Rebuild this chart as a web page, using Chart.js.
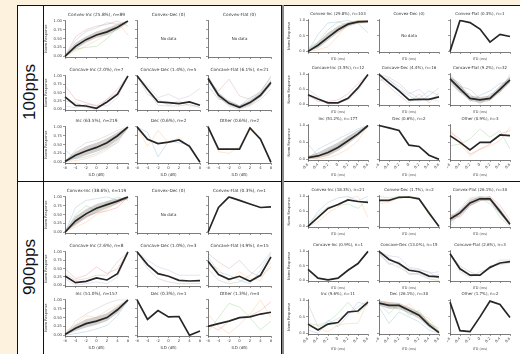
<!DOCTYPE html>
<html>
<head>
<meta charset="utf-8">
<script src="https://cdn.jsdelivr.net/npm/chart.js@4/dist/chart.umd.min.js"></script>
<style>
  body { margin: 0; width: 520px; height: 354px; background: #fcf2de; position: relative; overflow: hidden; }
  .box { position: absolute; }
  .line { position: absolute; background: #111; }
  .rowlab { position: absolute; font: 17px 'Liberation Sans', Arial, sans-serif; color: #111;
            transform: translate(-50%, -50%) rotate(-90deg); white-space: nowrap; }
  canvas { position: absolute; }
</style>
</head>
<body>
<div class="box" style="left:17px;top:5px;width:503px;height:349px;background:#fff"></div>
<div class="line" style="left:17px;top:5px;width:503px;height:1px"></div>
<div class="line" style="left:17px;top:5px;width:1px;height:349px"></div>
<div class="line" style="left:43px;top:5px;width:1px;height:349px"></div>
<div class="line" style="left:17px;top:181px;width:503px;height:1px"></div>
<div class="line" style="left:281px;top:5px;width:1px;height:349px"></div>
<div class="line" style="left:282px;top:5px;width:2px;height:349px;background:#8a8a8a"></div>
<div class="rowlab" style="left:30px;top:92px">100pps</div>
<div class="rowlab" style="left:30px;top:267px">900pps</div>
<div id="root"></div>
<script>
// x tick labels
const ILD_TICKS = ['-8', '-4', '-2', '0', '2', '4', '8'];
const ITD_TICKS = ['-0.6', '-0.4', '-0.2', '0', '0.2', '0.4', '0.6'];

// ---- 100pps, ILD ----
const titles100Ild = ['Convex-Inc (25.8%), n=89', 'Convex-Dec (0)', 'Convex-Flat (0)',
  'Concave-Inc (2.0%), n=7', 'Concave-Dec (1.4%), n=5', 'Concave-Flat (6.1%), n=21',
  'Inc (63.5%), n=219', 'Dec (0.6%), n=2', 'Other (0.6%), n=2'];
const mean100Ild = [
  [0, 0.28, 0.47, 0.6, 0.69, 0.82, 1.0], null, null,
  [0.37, 0.12, 0.1, 0.03, 0.22, 0.45, 1.0],
  [1.0, 0.6, 0.22, 0.2, 0.17, 0.22, 0.12],
  [0.92, 0.42, 0.18, 0.06, 0.2, 0.42, 0.8],
  [0.02, 0.2, 0.32, 0.42, 0.55, 0.75, 1.0],
  [1.0, 0.65, 0.53, 0.57, 0.63, 0.45, 0.0],
  [1.0, 0.37, 0.37, 0.37, 0.97, 0.65, 0.0]];
const band100Ild = [
  [[0, 0.2, 0.38, 0.52, 0.6, 0.74, 0.95], [0.03, 0.38, 0.56, 0.7, 0.8, 0.9, 1.0]], null, null,
  null, null,
  [[0.85, 0.35, 0.12, 0.02, 0.12, 0.35, 0.72], [1.0, 0.5, 0.25, 0.12, 0.28, 0.5, 0.88]],
  [[0, 0.1, 0.2, 0.3, 0.42, 0.62, 0.95], [0.05, 0.3, 0.45, 0.55, 0.68, 0.85, 1.0]],
  null, null];
const faint100Ild = [
  [[0, 0.45, 0.7, 0.8, 0.95, 0.9, 1.0], [0, 0.15, 0.3, 0.45, 0.65, 0.95, 0.6], [0, 0.2, 0.25, 0.28, 0.5, 0.82, 1.0], [0, 0.55, 0.75, 0.85, 0.9, 1.0, 0.85]],
  [], [],
  [[0.7, 0.3, 0.2, 0.1, 0.3, 0.6, 1.0], [0.1, 0.05, 0.15, 0.12, 0.1, 0.35, 1.0], [0.25, 0.2, 0.05, 0.0, 0.3, 0.5, 1.0]],
  [[1.0, 0.7, 0.35, 0.45, 0.3, 0.4, 0.62], [1.0, 0.55, 0.12, 0.1, 0.1, 0.15, 0.05], [1.0, 0.45, 0.3, 0.12, 0.25, 0.1, 0.1]],
  [[0.85, 0.55, 0.9, 0.4, 0.3, 0.55, 0.95], [1.0, 0.35, 0.1, 0.0, 0.1, 0.3, 0.6], [0.7, 0.3, 0.25, 0.1, 0.35, 0.5, 1.0]],
  [[0, 0.35, 0.55, 0.62, 0.75, 0.9, 1.0], [0.35, 0.1, 0.15, 0.25, 0.4, 0.55, 1.0], [0, 0.05, 0.1, 0.2, 0.35, 0.6, 1.0]],
  [[1.0, 0.85, 0.15, 0.6, 0.55, 0.5, 0.0], [1.0, 0.45, 0.9, 0.55, 0.7, 0.4, 0.0]],
  [[1.0, 0.3, 0.25, 0.45, 0.9, 0.7, 0.0]]];

// ---- 100pps, ITD ----
const titles100Itd = ['Convex-Inc (29.8%), n=103', 'Convex-Dec (0)', 'Convex-Flat (0.3%), n=1',
  'Concave-Inc (3.5%), n=12', 'Concave-Dec (4.4%), n=16', 'Concave-Flat (9.2%), n=32',
  'Inc (51.2%), n=177', 'Dec (0.6%), n=2', 'Other (0.9%), n=3'];
const mean100Itd = [
  [0, 0.2, 0.45, 0.7, 0.88, 0.95, 0.97], null,
  [0, 1.0, 0.93, 0.72, 0.3, 0.55, 0.48],
  [0.32, 0.18, 0.05, 0.05, 0.2, 0.55, 1.0],
  [1.0, 0.72, 0.45, 0.15, 0.17, 0.17, 0.25],
  [0.85, 0.52, 0.2, 0.15, 0.2, 0.5, 0.82],
  [0.05, 0.1, 0.2, 0.35, 0.55, 0.75, 1.0],
  [1.0, 0.93, 0.85, 0.42, 0.38, 0.12, 0.0],
  [0.7, 0.5, 0.28, 0.5, 0.5, 0.72, 0.7]];
const band100Itd = [
  [[0, 0.1, 0.35, 0.6, 0.8, 0.9, 0.92], [0.05, 0.3, 0.6, 0.82, 0.95, 1.0, 1.0]], null, null,
  null, null,
  [[0.75, 0.4, 0.12, 0.05, 0.12, 0.4, 0.72], [0.95, 0.65, 0.3, 0.25, 0.3, 0.62, 0.92]],
  [[0, 0.03, 0.1, 0.25, 0.45, 0.68, 0.95], [0.1, 0.2, 0.35, 0.5, 0.68, 0.85, 1.0]],
  null, null];
const faint100Itd = [
  [[0, 0.55, 0.92, 0.95, 1.0, 0.9, 0.6], [0, 0.05, 0.15, 0.5, 0.9, 1.0, 1.0], [0.1, 0.3, 0.7, 0.95, 0.85, 1.0, 0.95]],
  [], [],
  [[0.3, 0.1, 0.1, 0.15, 0.35, 0.7, 1.0], [0.5, 0.25, 0.0, 0.05, 0.15, 0.45, 1.0]],
  [[1.0, 0.8, 0.6, 0.35, 0.5, 0.2, 0.1], [0.9, 0.6, 0.3, 0.05, 0.35, 0.05, 0.4], [1.0, 0.9, 0.7, 0.4, 0.2, 0.45, 0.3], [0.8, 0.85, 0.5, 0.3, 0.1, 0.3, 0.55]],
  [[1.0, 0.6, 0.5, 0.2, 0.15, 0.55, 0.9], [0.7, 0.4, 0.35, 0.0, 0.35, 0.4, 1.0], [0.9, 0.7, 0.1, 0.3, 0.45, 0.7, 0.75]],
  [[0.45, 0.1, 0.25, 0.4, 0.65, 0.85, 1.0], [0, 0.3, 0.45, 0.6, 0.75, 0.9, 1.0], [0.05, 0.0, 0.05, 0.15, 0.3, 0.55, 1.0]],
  [],
  [[0.9, 0.45, 0.1, 0.3, 0.4, 0.55, 0.95], [0.4, 0.45, 0.6, 0.9, 0.65, 0.85, 0.3], [0.8, 0.6, 0.15, 0.3, 0.45, 0.75, 0.85]]];

// ---- 900pps, ILD ----
const titles900Ild = ['Convex-Inc (38.6%), n=119', 'Convex-Dec (0)', 'Convex-Flat (0.3%), n=1',
  'Concave-Inc (2.6%), n=8', 'Concave-Dec (1.0%), n=3', 'Concave-Flat (4.9%), n=15',
  'Inc (51.0%), n=157', 'Dec (0.3%), n=1', 'Other (1.3%), n=4'];
const mean900Ild = [
  [0, 0.32, 0.52, 0.68, 0.78, 0.88, 1.0], null,
  [0, 0.7, 1.0, 0.9, 0.8, 0.7, 0.72],
  [0.28, 0.08, 0.12, 0.22, 0.16, 0.35, 1.0],
  [1.0, 0.62, 0.35, 0.27, 0.15, 0.13, 0.14],
  [0.72, 0.32, 0.18, 0.27, 0.12, 0.3, 0.85],
  [0.02, 0.2, 0.33, 0.4, 0.5, 0.72, 1.0],
  [1.0, 0.45, 0.7, 0.52, 0.53, 0.0, 0.12],
  [0.25, 0.33, 0.4, 0.5, 0.52, 0.6, 0.65]];
const band900Ild = [
  [[0, 0.2, 0.4, 0.55, 0.68, 0.8, 0.95], [0.05, 0.45, 0.65, 0.8, 0.88, 0.95, 1.0]], null, null,
  null, null, null,
  [[0, 0.12, 0.22, 0.3, 0.4, 0.62, 0.95], [0.05, 0.3, 0.45, 0.52, 0.62, 0.82, 1.0]],
  null, null];
const faint900Ild = [
  [[0, 0.7, 0.9, 0.95, 1.0, 0.9, 0.95], [0, 0.15, 0.28, 0.5, 0.65, 0.85, 1.0], [0, 0.5, 0.75, 0.62, 0.85, 1.0, 0.9], [0, 0.25, 0.45, 0.55, 0.6, 0.7, 1.0]],
  [], [],
  [[0.5, 0.2, 0.3, 0.55, 0.35, 0.5, 1.0], [0.2, 0.0, 0.05, 0.1, 0.05, 0.25, 1.0], [0.35, 0.15, 0.2, 0.3, 0.3, 0.7, 1.0]],
  [[1.0, 0.75, 0.55, 0.45, 0.3, 0.3, 0.3], [1.0, 0.5, 0.2, 0.1, 0.05, 0.05, 0.05]],
  [[0.95, 0.7, 0.5, 0.75, 0.4, 0.25, 0.55], [0.5, 0.15, 0.05, 0.1, 0.3, 0.6, 1.0], [0.85, 0.4, 0.3, 0.15, 0.05, 0.45, 0.95], [0.6, 0.5, 0.1, 0.4, 0.2, 0.15, 0.7]],
  [[0, 0.4, 0.6, 0.75, 0.9, 1.0, 1.0], [0, 0.05, 0.1, 0.18, 0.28, 0.55, 1.0], [0.1, 0.3, 0.55, 0.5, 0.7, 0.85, 1.0]],
  [],
  [[0.6, 0.25, 0.05, 0.3, 0.6, 1.0, 0.5], [0.1, 0.5, 0.9, 0.8, 0.5, 0.15, 0.4], [0.3, 0.15, 0.4, 0.5, 0.55, 0.7, 0.95]]];

// ---- 900pps, ITD ----
const titles900Itd = ['Convex-Inc (18.3%), n=21', 'Convex-Dec (1.7%), n=2', 'Convex-Flat (26.1%), n=30',
  'Concave-Inc (0.9%), n=1', 'Concave-Dec (13.0%), n=15', 'Concave-Flat (2.6%), n=3',
  'Inc (9.6%), n=11', 'Dec (26.1%), n=30', 'Other (1.7%), n=2'];
const mean900Itd = [
  [0, 0.3, 0.6, 0.73, 0.88, 0.83, 0.8],
  [0.87, 0.87, 0.97, 0.98, 0.92, 0.45, 0.0],
  [0.25, 0.45, 0.78, 0.92, 0.92, 0.5, 0.07],
  [0.38, 0.08, 0.02, 0.08, 0.35, 0.58, 1.0],
  [1.0, 0.72, 0.58, 0.35, 0.3, 0.15, 0.12],
  [0.92, 0.4, 0.18, 0.18, 0.45, 0.6, 0.65],
  [0.28, 0.1, 0.28, 0.33, 0.65, 0.68, 0.95],
  [0.92, 0.85, 0.85, 0.7, 0.55, 0.25, 0.02],
  [0.95, 0.08, 0.05, 0.5, 0.98, 0.88, 0.48]];
const band900Itd = [
  null, null,
  [[0.15, 0.35, 0.68, 0.85, 0.85, 0.4, 0.02], [0.35, 0.55, 0.88, 1.0, 1.0, 0.6, 0.15]],
  null, null, null, null,
  [[0.85, 0.75, 0.75, 0.6, 0.45, 0.18, 0.0], [1.0, 0.95, 0.92, 0.8, 0.65, 0.35, 0.08]],
  null];
const faint900Itd = [
  [[0, 0.5, 0.8, 0.95, 1.0, 0.85, 1.0], [0, 0.15, 0.45, 0.65, 0.95, 1.0, 0.3], [0.1, 0.4, 0.65, 0.7, 0.75, 0.6, 0.9]],
  [[0.75, 0.8, 0.95, 1.0, 0.95, 0.5, 0.0], [1.0, 0.95, 1.0, 0.95, 0.9, 0.4, 0.0]],
  [[0.1, 0.6, 0.95, 1.0, 0.85, 0.3, 0.0], [0.4, 0.3, 0.7, 0.85, 1.0, 0.7, 0.2], [0.0, 0.5, 0.9, 0.95, 0.75, 0.45, 0.1]],
  [],
  [[1.0, 0.85, 0.8, 0.45, 0.4, 0.25, 0.3], [0.9, 0.6, 0.45, 0.25, 0.2, 0.05, 0.0], [1.0, 0.8, 0.5, 0.4, 0.35, 0.3, 0.05], [0.95, 0.55, 0.65, 0.2, 0.25, 0.1, 0.2]],
  [[0.9, 0.5, 0.3, 0.15, 0.5, 0.55, 0.6], [1.0, 0.3, 0.1, 0.3, 0.4, 0.7, 0.7]],
  [[0.9, 0.2, 0.3, 0.45, 0.6, 0.8, 1.0], [0.1, 0.0, 0.4, 0.2, 0.55, 0.95, 0.85], [0.2, 0.15, 0.05, 0.25, 0.3, 0.3, 1.0], [0.3, 0.25, 0.35, 0.6, 0.95, 0.6, 0.9]],
  [[0.8, 0.3, 0.65, 0.5, 0.35, 0.1, 0.0], [1.0, 0.9, 0.7, 0.9, 0.6, 0.45, 0.05], [0.9, 0.6, 0.9, 0.55, 0.7, 0.3, 0.15]],
  []];

const FAINT_COLORS = ['rgba(31,119,180,0.28)', 'rgba(255,127,14,0.28)', 'rgba(44,160,44,0.28)',
  'rgba(214,39,40,0.28)', 'rgba(148,103,189,0.28)', 'rgba(140,86,75,0.28)', 'rgba(127,127,127,0.3)'];

Chart.defaults.font.family = "'DejaVu Sans', sans-serif";
Chart.defaults.color = '#444';

// "No data" label in the middle of an empty axes
const noDataPlugin = {
  id: 'noData',
  afterDraw(chart, args, opts) {
    if (!opts.show) return;
    const a = chart.chartArea, ctx = chart.ctx;
    ctx.save();
    ctx.font = opts.size + "px 'DejaVu Sans'";
    ctx.fillStyle = '#333';
    ctx.textAlign = 'center';
    ctx.textBaseline = 'middle';
    ctx.fillText('No data', (a.left + a.right) / 2, (a.top + a.bottom) / 2);
    ctx.restore();
  }
};
Chart.register(noDataPlugin);

const panels = [
  { kind: 'ild', titles: titles100Ild, means: mean100Ild, bands: band100Ild, faint: faint100Ild,
    cols: [65, 137, 208], w: 63, tops: [21, 76, 127], hs: [36, 34, 36] },
  { kind: 'itd', titles: titles100Itd, means: mean100Itd, bands: band100Itd, faint: faint100Itd,
    cols: [308, 379, 450], w: 60, tops: [21, 75, 126], hs: [31, 30, 34] },
  { kind: 'ild', titles: titles900Ild, means: mean900Ild, bands: band900Ild, faint: faint900Ild,
    cols: [65, 137, 208], w: 63, tops: [197, 252, 300], hs: [36, 34, 36] },
  { kind: 'itd', titles: titles900Itd, means: mean900Itd, bands: band900Itd, faint: faint900Itd,
    cols: [308, 379, 450], w: 60, tops: [197, 252, 301], hs: [30, 29, 33] }
];

const root = document.getElementById('root');

function addSub(p, idx) {
  const col = idx % 3, row = Math.floor(idx / 3);
  const itd = p.kind === 'itd';
  const firstCol = col === 0, lastRow = row === 2;
  const yw = firstCol ? 21 : 3;
  const xh = itd ? (lastRow ? 17 : 9) : (lastRow ? 14 : 3);
  const titleH = 9, padR = 3;
  const plotW = p.w, plotH = p.hs[row];

  const cv = document.createElement('canvas');
  cv.width = yw + plotW + padR;
  cv.height = titleH + plotH + xh;
  cv.style.left = (p.cols[col] - yw) + 'px';
  cv.style.top = (p.tops[row] - titleH) + 'px';
  root.appendChild(cv);

  const mean = p.means[idx];
  const datasets = [];
  if (mean) {
    datasets.push({ data: mean, borderColor: '#262626', borderWidth: 1.7, pointRadius: 0, fill: false });
    p.faint[idx].forEach((tr, k) => {
      datasets.push({ data: tr, borderColor: FAINT_COLORS[(k + idx) % FAINT_COLORS.length],
        borderWidth: 0.7, pointRadius: 0, fill: false });
    });
    const band = p.bands[idx];
    if (band) {
      datasets.push({ data: band[0], borderWidth: 0, borderColor: 'rgba(0,0,0,0)', pointRadius: 0, fill: false });
      datasets.push({ data: band[1], borderWidth: 0, borderColor: 'rgba(0,0,0,0)', pointRadius: 0,
        fill: '-1', backgroundColor: 'rgba(115,105,95,0.32)' });
    }
  }

  const tickFont = { size: itd ? 3.6 : 3.8 };
  new Chart(cv, {
    type: 'line',
    data: { labels: itd ? ITD_TICKS : ILD_TICKS, datasets: datasets },
    options: {
      responsive: false,
      animation: false,
      devicePixelRatio: 1,
      layout: { padding: { left: 0, right: padR, top: 0, bottom: 0 } },
      plugins: {
        legend: { display: false },
        tooltip: { enabled: false },
        noData: { show: !mean, size: 4 },
        title: {
          display: true, text: p.titles[idx], fullSize: false,
          font: { size: itd ? 4.0 : 4.3, weight: 'normal' }, color: '#333',
          padding: { top: 0, bottom: 3 }
        }
      },
      scales: {
        x: {
          type: 'category', offset: false,
          grid: { display: true, drawOnChartArea: false, tickLength: 2, color: '#555', lineWidth: 0.6 },
          border: { display: true, color: '#444', width: 0.7 },
          ticks: {
            display: lastRow, autoSkip: false, padding: 0.5, font: tickFont, color: '#444',
            maxRotation: itd ? 45 : 0, minRotation: itd ? 45 : 0
          },
          title: { display: itd || lastRow, text: itd ? 'ITD (ms)' : 'ILD (dB)',
            font: { size: itd ? 3.4 : 4 }, color: '#444', padding: 0 },
          afterFit(s) { s.height = xh; s.paddingLeft = 0; s.paddingRight = 0; }
        },
        y: {
          type: 'linear', min: -0.02, max: 1.02,
          grid: { display: true, drawOnChartArea: false, tickLength: 2, color: '#555', lineWidth: 0.6 },
          border: { display: true, color: '#444', width: 0.7 },
          afterBuildTicks(s) {
            const vals = itd ? [0, 0.5, 1] : [0, 0.25, 0.5, 0.75, 1];
            s.ticks = vals.map(v => ({ value: v }));
          },
          ticks: {
            display: firstCol, padding: 1, font: tickFont, color: '#444',
            callback: v => v.toFixed(itd ? 1 : 2)
          },
          title: { display: firstCol, text: 'Norm Response', font: { size: 3.6 }, color: '#444', padding: 0 },
          afterFit(s) { s.width = yw; s.paddingTop = 0; s.paddingBottom = 0; }
        }
      }
    }
  });
}

panels.forEach(p => {
  for (let i = 0; i < 9; i++) addSub(p, i);
});
</script>
</body>
</html>
